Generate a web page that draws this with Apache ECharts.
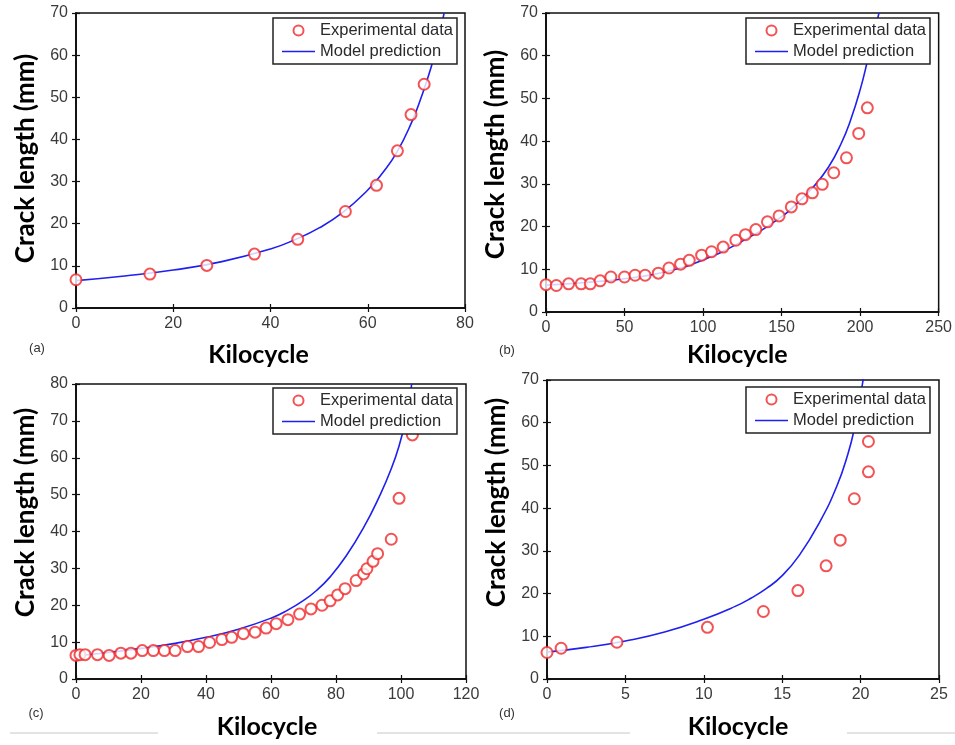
<!DOCTYPE html>
<html>
<head>
<meta charset="utf-8">
<script src="https://cdn.jsdelivr.net/npm/echarts@6/dist/echarts.min.js"></script>
<style>
html,body{margin:0;padding:0;background:#fff;}
#chart{width:955px;height:745px;}
</style>
</head>
<body>
<div id="chart"></div>
<script>
// ---- Data ----
const seriesNames = ['Experimental data', 'Model prediction'];
const xAxisTitle = 'Kilocycle';
const yAxisTitle = 'Crack length (mm)';
const panelLabels = ['(a)', '(b)', '(c)', '(d)'];

// Panel (a)
const expA = [[0,6.7],[15.2,8.05],[26.9,10.1],[36.7,12.8],[45.6,16.3],[55.4,22.9],[61.8,29.1],[66.1,37.3],[68.9,45.9],[71.6,53.1]];
const modelA = [[0,6.5],[10,7.6],[20,9.0],[30,11.0],[40,14.0],[45,16.2],[50,19.0],[55,22.8],[60,28.0],[63,32.0],[66,37.0],[69,44.0],[71,50.0],[73,57.0],[74.5,63.5],[75.7,70]];
// Panel (b)
const expB = [[0,6.4],[6.6,6.2],[14.4,6.6],[22.4,6.6],[28.2,6.6],[34.5,7.3],[41.3,8.2],[50,8.2],[56.7,8.6],[63.1,8.6],[71.5,9.1],[78.3,10.3],[85.7,11.2],[91.2,12.1],[99.1,13.3],[105.4,14.1],[112.8,15.2],[120.9,16.8],[127,18.1],[133.6,19.3],[141,21.1],[148.4,22.5],[156.2,24.6],[163,26.5],[169.6,27.9],[175.9,29.9],[183.2,32.6],[191.3,36.1],[199.1,41.8],[204.6,47.8]];
const modelB = [[0,6.3],[25,6.9],[50,7.8],[75,9.3],[100,12.2],[125,16.6],[150,22.3],[160,25.5],[170,29.2],[180,34.0],[188,39.5],[194,45.0],[200,52.0],[205,59.3],[208.5,64.6],[212,70]];
// Panel (c)
const expC = [[0,6.4],[1.2,6.6],[2.8,6.6],[6.6,6.6],[10.2,6.4],[13.8,7.0],[16.9,7.0],[20.4,7.7],[23.8,7.7],[27.2,7.7],[30.5,7.7],[34.3,8.8],[37.7,8.8],[41.1,9.9],[44.9,10.7],[47.9,11.3],[51.5,12.3],[55.1,12.7],[58.5,13.8],[61.6,15.0],[65.2,16.1],[68.8,17.6],[72.3,19.0],[75.7,20.0],[78.2,21.2],[80.5,22.8],[82.8,24.5],[86.2,26.7],[88.5,28.5],[89.5,29.9],[91.4,31.9],[92.8,34.0],[97.0,37.9],[99.4,49.0],[103.5,66.2]];
const modelC = [[0,6.3],[10,7.2],[20,8.3],[30,9.6],[40,11.3],[50,13.5],[60,16.5],[65,18.6],[70,21.3],[74,24.0],[78.2,27.7],[83,33.2],[88.4,40.9],[93.5,49.8],[97,57.0],[99.5,63.5],[101.2,69.5],[102.4,75.0],[103.3,80]];
// Panel (d)
const expD = [[0,6.2],[0.9,7.2],[4.46,8.6],[10.23,12.1],[13.8,15.8],[16.0,20.7],[17.8,26.5],[18.7,32.5],[19.6,42.2],[20.5,48.5],[20.5,55.6]];
const modelD = [[0,6.3],[2.5,7.4],[5,8.9],[7.5,11.0],[10,14.0],[12,17.0],[13,18.9],[14,21.2],[15,24.2],[16.1,29.0],[17.4,36.8],[18.5,45.3],[19.2,52.8],[19.6,58.6],[20.0,66.5],[20.2,71]];

const panelExp = [expA, expB, expC, expD];
const panelModel = [modelA, modelB, modelC, modelD];
const xMax = [80, 250, 120, 25];
const xStep = [20, 50, 20, 5];
const yMax = [70, 70, 80, 70];
const yStep = [10, 10, 10, 10];

// ---- Layout ----
const grids = [
  {left: 76, top: 13, width: 389, height: 295},
  {left: 546, top: 13, width: 393, height: 299},
  {left: 76, top: 384, width: 390, height: 295},
  {left: 547, top: 380, width: 392, height: 299}
];
const legendPos = [{left: 273, top: 18}, {left: 746, top: 18}, {left: 273, top: 388}, {left: 746, top: 387}];
const yNameShift = [4, 16, 38, 54];
const xNamePadRight = [24, 10, 8, 10];
const xNameGap = [34, 30, 35, 35];
const labelPos = [[37, 348], [507, 350], [36, 713], [507, 713]];

const RED = '#f0282a';
const BLUE = '#1f1ff0';
const tickFont = {fontFamily: '"Liberation Sans", Arial, sans-serif', fontSize: 16, color: '#3a3a3a'};
const yTitleFont = {fontFamily: 'Lato, "Open Sans", sans-serif', fontSize: 26, fontWeight: 'bold', color: '#000'};
const xTitleFont = {fontFamily: 'Lato, "Open Sans", sans-serif', fontSize: 25, fontWeight: 'bold', color: '#000'};

const xAxes = [], yAxes = [], series = [], legends = [], graphics = [];
for (let i = 0; i < 4; i++) {
  xAxes.push({
    type: 'value', gridIndex: i, min: 0, max: xMax[i], interval: xStep[i], position: 'bottom',
    axisLine: {show: true, lineStyle: {color: '#111', width: 1.5}},
    axisTick: {show: true, inside: true, length: 4, lineStyle: {color: '#111', width: 1.2}},
    axisLabel: Object.assign({margin: 8}, tickFont),
    splitLine: {show: false},
    name: xAxisTitle, nameLocation: 'middle', nameGap: xNameGap[i],
    nameTextStyle: Object.assign({padding: [0, xNamePadRight[i], 0, 0]}, xTitleFont)
  });
  xAxes.push({
    type: 'value', gridIndex: i, min: 0, max: xMax[i], interval: xStep[i], position: 'top',
    axisLine: {show: true, lineStyle: {color: '#111', width: 1.5}},
    axisTick: {show: true, inside: true, length: 4, lineStyle: {color: '#111', width: 1.2}},
    axisLabel: {show: false}, splitLine: {show: false}
  });
  yAxes.push({
    type: 'value', gridIndex: i, min: 0, max: yMax[i], interval: yStep[i], position: 'left',
    axisLine: {show: true, lineStyle: {color: '#111', width: 1.5}},
    axisTick: {show: true, inside: true, length: 4, lineStyle: {color: '#111', width: 1.2}},
    axisLabel: Object.assign({margin: 8}, tickFont),
    splitLine: {show: false},
    name: yAxisTitle, nameLocation: 'middle', nameGap: 37,
    nameTextStyle: Object.assign({padding: [0, 0, 0, yNameShift[i]]}, yTitleFont)
  });
  yAxes.push({
    type: 'value', gridIndex: i, min: 0, max: yMax[i], interval: yStep[i], position: 'right',
    axisLine: {show: true, lineStyle: {color: '#111', width: 1.5}},
    axisTick: {show: true, inside: true, length: 4, lineStyle: {color: '#111', width: 1.2}},
    axisLabel: {show: false}, splitLine: {show: false}
  });
  series.push({
    name: seriesNames[0], type: 'scatter', xAxisIndex: 2 * i, yAxisIndex: 2 * i,
    symbol: 'emptyCircle', symbolSize: 11, z: 3,
    itemStyle: {color: RED, borderColor: RED, borderWidth: 1.6},
    data: panelExp[i]
  });
  series.push({
    name: seriesNames[1], type: 'line', xAxisIndex: 2 * i, yAxisIndex: 2 * i,
    symbol: 'none', smooth: 0.5, z: 2,
    lineStyle: {color: BLUE, width: 1.6}, itemStyle: {color: BLUE},
    data: panelModel[i]
  });
  legends.push({
    left: legendPos[i].left, top: legendPos[i].top, orient: 'vertical',
    backgroundColor: '#fff', borderColor: '#222', borderWidth: 1.5,
    padding: [4, 4, 4, 9], itemGap: 4, itemWidth: 33, itemHeight: 10,
    textStyle: {fontFamily: '"Liberation Sans", Arial, sans-serif', fontSize: 16.5, color: '#2a2a2a'},
    selectedMode: false, z: 10,
    data: [
      {name: seriesNames[0], icon: 'emptyCircle'},
      {name: seriesNames[1], icon: 'path://M0,0 L40,0 L40,2 L0,2 Z'}
    ]
  });
  graphics.push({
    type: 'text', x: labelPos[i][0], y: labelPos[i][1],
    style: {text: panelLabels[i], fill: '#333', font: '13px "Liberation Sans", Arial, sans-serif', textAlign: 'center', textVerticalAlign: 'middle'}
  });
}
// faint separator lines near the bottom of the figure
[[10, 158], [377, 630], [847, 955]].forEach(function (s) {
  graphics.push({type: 'line', shape: {x1: s[0], y1: 733, x2: s[1], y2: 733}, style: {stroke: '#c8c8c8', lineWidth: 1}});
});

const chart = echarts.init(document.getElementById('chart'), null, {renderer: 'canvas'});
chart.setOption({
  animation: false,
  backgroundColor: '#fff',
  grid: grids.map(g => Object.assign({show: true, borderColor: '#111', borderWidth: 1.5, backgroundColor: '#fff'}, g)),
  xAxis: xAxes,
  yAxis: yAxes,
  legend: legends,
  series: series,
  graphic: graphics
});
</script>
</body>
</html>
